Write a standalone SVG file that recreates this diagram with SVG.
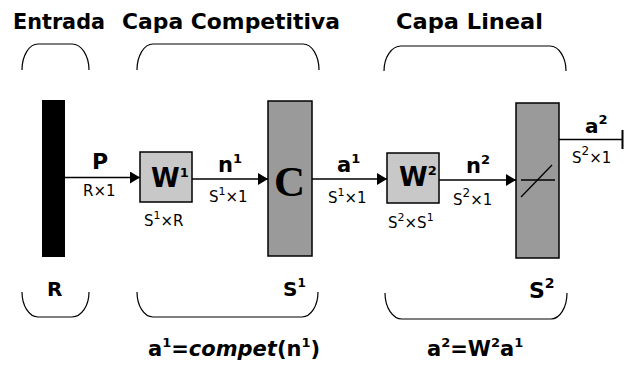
<svg xmlns="http://www.w3.org/2000/svg" width="624" height="365" viewBox="0 0 624 365">
<style>
  .t { font-family: "DejaVu Sans", "Liberation Sans", sans-serif; fill: #000; }
  .b { font-weight: bold; }
  .title { font-family: "DejaVu Sans", "Liberation Sans", sans-serif; font-weight: bold; font-size: 22px; }
  .dim { font-family: "DejaVu Sans", "Liberation Sans", sans-serif; font-size: 15px; }
  .br { fill: none; stroke: #000; stroke-width: 1.2; }
  .wire { fill: none; stroke: #000; stroke-width: 1.5; }
  .wbox { fill: #c8c8c8; stroke: #000; stroke-width: 1.5; }
  .gbox { fill: #9a9a9a; stroke: #000; stroke-width: 1.5; }
</style>
<defs>
  <marker id="ah" viewBox="0 0 10 12" refX="10" refY="6" markerWidth="10" markerHeight="12" markerUnits="userSpaceOnUse" orient="auto">
    <path d="M0,0 L10,6 L0,12 Z" fill="#000"/>
  </marker>
</defs>
<rect width="624" height="365" fill="#fff"/>

<g id="titles">
  <text class="title" x="13" y="29" textLength="92" lengthAdjust="spacingAndGlyphs">Entrada</text>
  <text class="title" x="122" y="29" textLength="218" lengthAdjust="spacingAndGlyphs">Capa Competitiva</text>
  <text class="title" x="396" y="29" textLength="147" lengthAdjust="spacingAndGlyphs">Capa Lineal</text>
</g>

<g id="brackets">
  <path class="br" d="M22,70 A16,26 0 0 1 38,44 H72 A17,26 0 0 1 89,70"/>
  <path class="br" d="M137,70 A16,26 0 0 1 153,44 H303 A16,26 0 0 1 319,70"/>
  <path class="br" d="M384,71 A17,25 0 0 1 401,46 H550 A16,25 0 0 1 566,71"/>
  <path class="br" d="M22,292 A16,25 0 0 0 38,317 H72 A17,25 0 0 0 89,292"/>
  <path class="br" d="M137,292 A16,25 0 0 0 153,317 H302 A16,25 0 0 0 318,292"/>
  <path class="br" d="M385,293 A17,26 0 0 0 402,319 H551 A16,26 0 0 0 567,293"/>
</g>

<g id="input">
  <rect x="42" y="100" width="23" height="157" fill="#000"/>
  <text class="t b" x="47" y="296" font-size="20">R</text>
</g>

<g id="W1">
  <rect class="wbox" x="140" y="152" width="52" height="50"/>
  <text class="t b" x="151" y="187" font-size="26">W<tspan font-size="13" dy="-10">1</tspan></text>
  <text class="dim" x="144" y="226">S<tspan font-size="11" dy="-7">1</tspan><tspan dy="7">×R</tspan></text>
</g>

<g id="C">
  <rect class="gbox" x="268" y="101" width="44" height="155"/>
  <text x="274" y="196" font-family="'Liberation Serif', serif" font-weight="bold" font-size="43">C</text>
  <text class="t b" x="283" y="296" font-size="20">S<tspan font-size="12" dy="-9">1</tspan></text>
</g>

<g id="W2">
  <rect class="wbox" x="387" y="153" width="52" height="50"/>
  <text class="t b" x="399" y="186" font-size="26">W<tspan font-size="13" dy="-11">2</tspan></text>
  <text class="dim" x="388" y="228">S<tspan font-size="11" dy="-7">2</tspan><tspan dy="7">×S</tspan><tspan font-size="11" dy="-7">1</tspan></text>
</g>

<g id="linear">
  <rect class="gbox" x="516" y="103" width="43" height="155"/>
  <line x1="521" y1="180" x2="555" y2="180" stroke="#000" stroke-width="1.5"/>
  <line x1="521" y1="197" x2="552" y2="165" stroke="#000" stroke-width="1.3"/>
  <text class="t b" x="529" y="298" font-size="22">S<tspan font-size="14" dy="-10">2</tspan></text>
</g>

<g id="connectors">
  <line class="wire" x1="65" y1="177.5" x2="140" y2="177.5" marker-end="url(#ah)"/>
  <line class="wire" x1="192" y1="179" x2="268" y2="179" marker-end="url(#ah)"/>
  <line class="wire" x1="312" y1="179" x2="387" y2="179" marker-end="url(#ah)"/>
  <line class="wire" x1="439" y1="180" x2="516" y2="180" marker-end="url(#ah)"/>
  <line class="wire" x1="559" y1="139.5" x2="623" y2="139.5"/>
  <line x1="622.5" y1="130" x2="622.5" y2="149" stroke="#000" stroke-width="2"/>
</g>

<g id="edge-labels">
  <text class="t b" x="92" y="169" font-size="22">P</text>
  <text class="dim" x="83" y="196">R×1</text>
  <text class="t b" x="218" y="171.5" font-size="21">n<tspan font-size="13" dy="-9">1</tspan></text>
  <text class="dim" x="209" y="202">S<tspan font-size="11" dy="-7">1</tspan><tspan dy="7">×1</tspan></text>
  <text class="t b" x="337" y="171.5" font-size="21">a<tspan font-size="13" dy="-9">1</tspan></text>
  <text class="dim" x="328" y="202.5">S<tspan font-size="11" dy="-7">1</tspan><tspan dy="7">×1</tspan></text>
  <text class="t b" x="466" y="173" font-size="21">n<tspan font-size="13" dy="-9">2</tspan></text>
  <text class="dim" x="453" y="205">S<tspan font-size="12" dy="-8">2</tspan><tspan dy="8">×1</tspan></text>
  <text class="t b" x="585" y="132.5" font-size="20">a<tspan font-size="13" dy="-9">2</tspan></text>
  <text class="dim" x="572" y="163">S<tspan font-size="12" dy="-8">2</tspan><tspan dy="8">×1</tspan></text>
</g>

<g id="equations">
  <text class="t b" x="148" y="356" font-size="21">a<tspan font-size="13" dy="-9">1</tspan><tspan dy="9">=</tspan><tspan font-style="italic">compet</tspan>(n<tspan font-size="13" dy="-9">1</tspan><tspan dy="9">)</tspan></text>
  <text class="t b" x="427" y="356" font-size="21">a<tspan font-size="13" dy="-9">2</tspan><tspan dy="9">=W</tspan><tspan font-size="13" dy="-9">2</tspan><tspan dy="9">a</tspan><tspan font-size="13" dy="-9">1</tspan></text>
</g>
</svg>
